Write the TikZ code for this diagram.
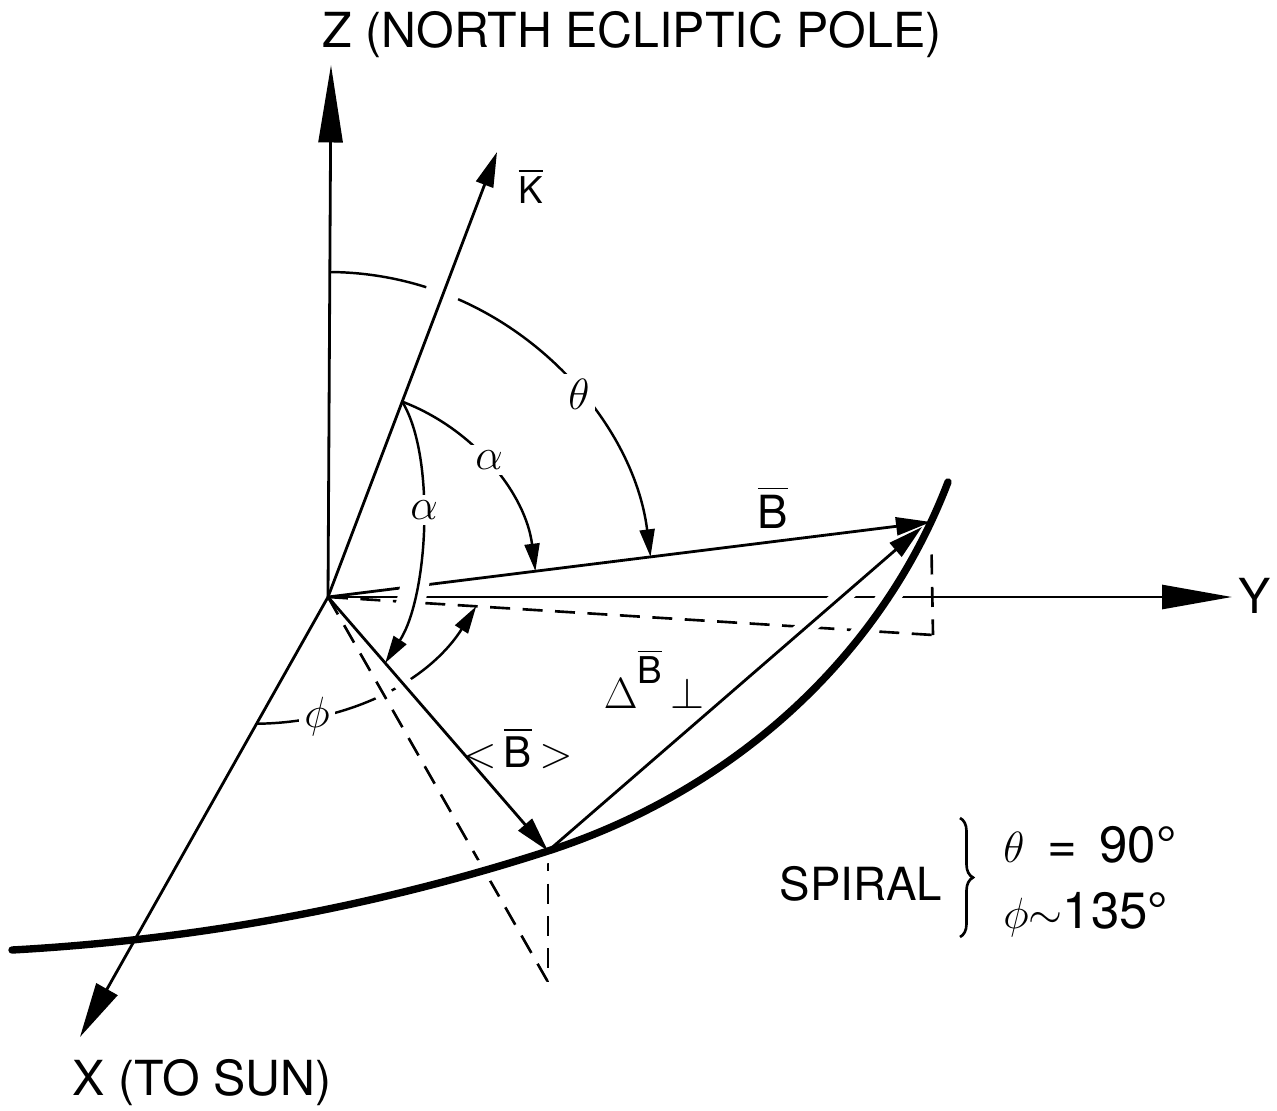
\documentclass[tikz,border=0pt]{standalone}
\usepackage{amsmath}
\usepackage{fontspec}
\setmainfont{TeX Gyre Heros}
\usetikzlibrary{arrows.meta, calc, decorations.pathreplacing}

\begin{document}
\begin{tikzpicture}[
    x=0.02cm, y=0.02cm,
    axis/.style={-{Triangle[length=#1, width=0.48cm]}, line width=1.6pt},
    axis/.default=1.4cm,
    vect/.style={-{Triangle[length=0.7cm, width=0.36cm]}, line width=1.6pt},
    angarc/.style={-{Triangle[length=0.55cm, width=0.3cm]}, line width=1.4pt},
    proj/.style={line width=1.5pt, dash pattern=on 0.4cm off 0.25cm},
    spiral/.style={line width=4.2pt, line cap=round},
    cover/.style={white, line width=10pt},
    halo/.style={preaction={draw, white, line width=#1, -}},
    lbl/.style={inner sep=0pt, anchor=base, font=\fontsize{27.5}{33}\selectfont},
    greek/.style={fill=white, inner sep=3pt, font=\fontsize{30}{36}\selectfont},
]
\useasboundingbox (-328,-513) rectangle (949,597);

% ---- Frame, vectors and projections ----
\coordinate (O) at (0,0);
\coordinate (Ztip) at (3,532);
\coordinate (Ytip) at (904,0);
\coordinate (Xtip) at (-248,-440);
\coordinate (Ktip) at (169,445);
\coordinate (Btip) at (603,75);
\coordinate (Bavg) at (220,-254);
\coordinate (dBtip) at (594,70);
\coordinate (Bproj) at (605,-38);
\coordinate (Bavgproj) at (220,-385);
\coordinate (Ka) at (69.2:209);
\coordinate (aEnd) at ($(O)!0.26!(Bavg)$);
\coordinate (Xphi) at ($(O)!0.288!(Xtip)$);
\coordinate (phiEnd) at ($(O)!0.245!(Bproj)$);
\coordinate (braceTop) at (632,-221);
\coordinate (braceBot) at (632,-340);

% ---- Azimuth arc (behind the plane lines) ----
\draw[angarc] (Xphi) .. controls (20,-126) and (100,-85) .. (phiEnd);
\node[greek, font=\fontsize{28}{34}\selectfont] (phiLbl) at (-11,-120) {$\phi$};
\draw[cover] ($(O)!0.30!(Bavg)$) -- ($(O)!0.38!(Bavg)$);
\draw[cover] ($(O)!0.18!(Bavgproj)$) -- ($(O)!0.27!(Bavgproj)$);

% ---- Projections ----
\draw[proj] (O) -- (Bproj);
\draw[proj] (Btip) -- (Bproj);
\draw[proj] (O) -- (Bavgproj);
\draw[proj] (Bavg) -- (Bavgproj);

\draw[axis] (O) -- (Ytip);

% ---- Spiral field line ----
\draw[spiral, halo=13pt] (-316,-353) .. controls (-134,-343) and (47,-310) .. (Bavg)
    .. controls (402,-195) and (552,-63) .. (620,115);

\draw[vect] (O) -- (Btip);
\draw[cover] ($(Bavg)!0.66!(dBtip)$) -- ($(Bavg)!0.84!(dBtip)$);
\draw[vect] (Bavg) -- (dBtip);

% ---- Angles ----
\draw[angarc, halo=16pt] (Ka) .. controls (108,140) and (100,0) .. (aEnd);
\node[greek] (alphaB) at (96,87) {$\alpha$};
\draw[angarc] (Ka) arc[start angle=69.2, end angle=7.1, radius=209];
\node[greek] (alphaK) at (161,137) {$\alpha$};
\draw[line width=1.4pt] (O) ++(89.7:325) arc[start angle=89.7, end angle=72.4, radius=325];
\draw[angarc] (O) ++(66.4:325) arc[start angle=66.4, end angle=7.1, radius=325];
\node[greek] (theta) at (251,203) {$\theta$};

\draw[axis=1.55cm] (O) -- (Ztip);
\draw[axis=1.1cm] (O) -- (Xtip);
\draw[vect] (O) -- (Ktip);
\draw[vect] (O) -- (Bavg);

% ---- Labels ----
\node[lbl] (zlabel) at (304,550) {Z (NORTH ECLIPTIC POLE)};
\node[lbl] (xlabel) at (-126,-498) {X (TO SUN)};
\node[lbl] (ylabel) at (927,-16) {Y};
\node[lbl, font=\fontsize{21}{25}\selectfont] (klabel) at (203,394) {$\overline{\text{K}}$};
\node[lbl, font=\fontsize{26}{31}\selectfont] (blabel) at (445,69) {$\overline{\text{B}}$};
\node[lbl] (dblabel) at (326,-111)
    {$\Delta$\raisebox{14pt}{\fontsize{21}{25}\selectfont$\overline{\text{B}}$}\,$\mathord{\perp}$};
\node[lbl, font=\fontsize{24}{29}\selectfont] (bavglabel) at (190,-170)
    {$\mathord{<}\,\overline{\text{B}}\,\mathord{>}$};
\node[lbl, font=\fontsize{26}{31}\selectfont] (spiralLbl) at (533,-303) {SPIRAL};
\draw[line width=1.5pt, decorate, decoration={brace, amplitude=0.26cm}] (braceTop) -- (braceBot);
\node[lbl, anchor=base west, font=\fontsize{29}{35}\selectfont] (thetaeq) at (675,-265)
    {$\theta$ \,=\, 90°};
\node[lbl, anchor=base west, font=\fontsize{29}{35}\selectfont] (phieq) at (675,-331)
    {$\phi\mathord{\sim}$135°};

\end{tikzpicture}
\end{document}
